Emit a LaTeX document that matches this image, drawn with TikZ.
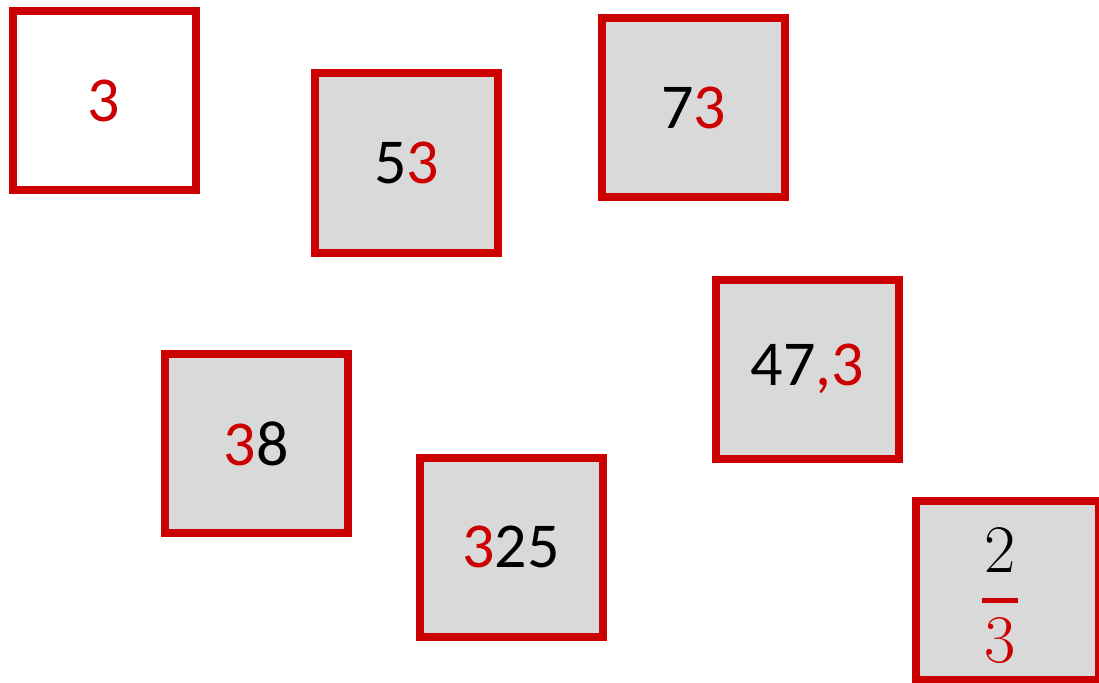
\documentclass[tikz,border=0pt]{standalone}
\usepackage{fontspec}
\newfontfamily\boxfont{Carlito}
\definecolor{boxred}{HTML}{CC0000}
\definecolor{tilegray}{HTML}{D9D9D9}
\newcommand\redd[1]{\textcolor{boxred}{#1}}
\tikzset{tile/.style={draw=boxred,line width=8pt,fill=tilegray,minimum width=183pt,minimum height=179pt,inner sep=0pt,font=\boxfont\fontsize{64}{70}\selectfont},
fracnum/.style={inner sep=0pt,font=\fontsize{68}{72}\selectfont}}
\begin{document}
\begin{tikzpicture}[x=1pt,y=-1pt]
\useasboundingbox(0,0)rectangle(1099,682);
\node[tile,fill=white](t3)at(104,100.5){\redd{3}};
\node[tile](t53)at(406.5,163){5\redd{3}};
\node[tile](t73)at(693.5,107.5){7\redd{3}};
\node[tile](t473)at(807.5,369){47\redd{,3}};
\node[tile](t38)at(256,443.5){\redd{3}8};
\node[tile](t325)at(511,547){\redd{3}25};
\node[tile](tfrac)at(1007,590){};
% fraction 2/3
\node[fracnum](num)at([xshift=-7pt,yshift=40pt]tfrac.center){2};
\fill[boxred]([xshift=-25pt,yshift=-7.5pt]tfrac.center)rectangle++(36,5);
\node[fracnum,text=boxred](den)at([xshift=-7pt,yshift=-51pt]tfrac.center){3};
\end{tikzpicture}
\end{document}
